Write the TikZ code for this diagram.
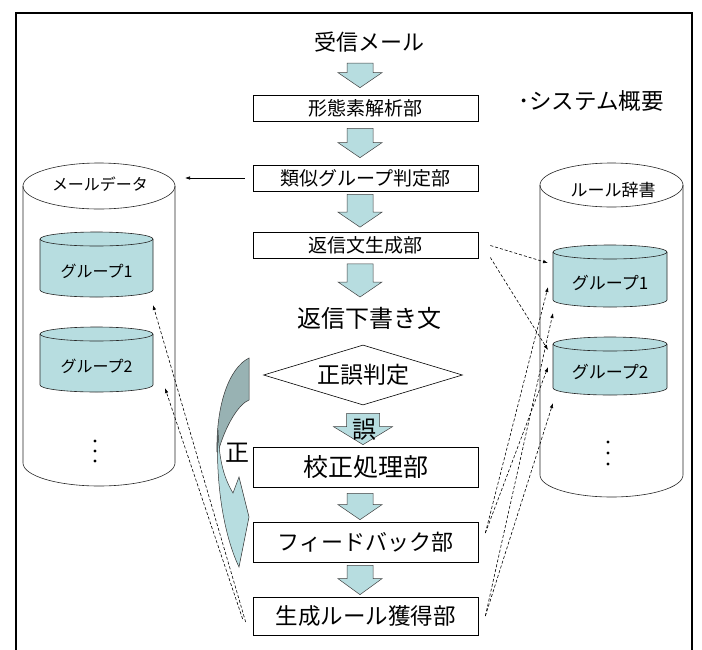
\documentclass[tikz,border=0pt]{standalone}
\usepackage{fontspec}
\setmainfont{Noto Sans CJK JP}
\usetikzlibrary{calc,arrows.meta,shapes.geometric}
\definecolor{lt}{HTML}{B7DDE0}
\definecolor{dk}{HTML}{98B2B3}
\newcommand\fs[1]{\fontsize{#1pt}{#1pt}\selectfont}
\newcommand\barrow[5]{%
  \draw[blk] let \p1=#4, \p2=#5 in
  (\x1-#1pt,\y1) -- (\x1+#1pt,\y1) -- (\x1+#1pt,\y2+#3pt) -- (\x1+#2pt,\y2+#3pt)
  -- (\x1,\y2) -- (\x1-#2pt,\y2+#3pt) -- (\x1-#1pt,\y2+#3pt) -- cycle;}
\newcommand\can[6]{%
  \pgfmathsetmacro\canrx{(#2-#1)/2}%
  \pgfmathsetmacro\cancx{(#1+#2)/2}%
  \fill[#6] (#1,#3) -- (#1,#4) arc[start angle=180,end angle=360,x radius=\canrx pt,y radius=#5pt]
    -- (#2,#3) arc[start angle=0,end angle=180,x radius=\canrx pt,y radius=#5pt] -- cycle;
  \draw[canline] (#1,#3) -- (#1,#4) arc[start angle=180,end angle=360,x radius=\canrx pt,y radius=#5pt] -- (#2,#3);
  \draw[canline] (\cancx,#3) ellipse[x radius=\canrx pt,y radius=#5pt];}
\begin{document}
\begin{tikzpicture}[x=1pt,y=-1pt,
  box/.style={draw=black,line width=0.7pt,fill=white,minimum width=225pt,inner sep=0pt},
  blk/.style={fill=lt,draw=black!75,line width=0.5pt},
  canline/.style={draw=black!85,line width=0.6pt},
  dsh/.style={dash pattern=on 3pt off 2pt,line width=0.6pt,-{Latex[length=5pt,width=3.5pt]}},
  lbl/.style={inner sep=0pt}]
\useasboundingbox (0,0) rectangle (702,649);
\fill[white] (0,0) rectangle (702,649);
\draw[line width=2.5pt] (16,660) -- (16,13) -- (692,13) -- (692,660);

% cylinders
\can{23}{175}{186}{463}{23}{white}
\can{540}{683}{185}{475}{22}{white}
\can{40}{153}{239}{290}{7}{lt}
\can{40}{153}{334}{385}{7}{lt}
\can{553}{667}{252}{300}{7}{lt}
\can{553}{667}{344}{388}{7}{lt}

\node[lbl,font=\fs{16}] (md) at (100,184) {メールデータ};
\node[lbl,font=\fs{17}] (rd) at (613,190) {ルール辞書};
\node[lbl,font=\fs{16}] (lg1) at (96.5,271) {グループ1};
\node[lbl,font=\fs{16}] (lg2) at (96.5,366) {グループ2};
\node[lbl,font=\fs{17}] (rg1) at (610,283) {グループ1};
\node[lbl,font=\fs{17}] (rg2) at (610,372) {グループ2};
\foreach \yy in {441,451,461} \fill (95,\yy) circle (1.7pt);
\foreach \yy in {442,453,464} \fill (608,\yy) circle (1.7pt);

% centre column
\node[lbl,font=\fs{22}] (recv) at (369,42) {受信メール};
\node[lbl,font=\fs{22.5}] (sys) at (591,101) {･システム概要};
\node[box,minimum height=26pt,font=\fs{19}] (b1) at (365.5,108) {形態素解析部};
\node[box,minimum height=26pt,font=\fs{19}] (b2) at (365.5,178) {類似グループ判定部};
\node[box,minimum height=26pt,font=\fs{19}] (b3) at (365.5,245.5) {返信文生成部};
\node[lbl,font=\fs{24}] (draft) at (369,318) {返信下書き文};
\node[diamond,draw=black,line width=0.6pt,fill=white,minimum width=199pt,minimum height=60pt,
      inner sep=0pt,aspect=3.3,font=\fs{23}] (judge) at (363,375) {正誤判定};
\node[box,minimum height=40pt,font=\fs{25}] (b4) at (365.5,467) {校正処理部};
\node[box,minimum height=40pt,font=\fs{22}] (b5) at (365.5,542) {フィードバック部};
\node[box,minimum height=38pt,font=\fs{22.5}] (b6) at (365.5,616) {生成ルール獲得部};

% block arrows
\barrow{13}{22}{15}{($(recv.center)+(-9,21)$)}{($(b1.north)+(-5.5,-7)$)}
\barrow{13}{22}{15}{($(b1.south)+(-5.5,7)$)}{($(b2.north)+(-5.5,-7)$)}
\barrow{13}{22}{15}{($(b2.south)+(-5.5,3)$)}{($(b3.north)+(-5.5,-5)$)}
\barrow{13}{22}{15}{($(b3.south)+(-5.5,5)$)}{($(draft.center)+(-9,-21)$)}
\barrow{16.5}{29.5}{18}{($(judge.south)+(0,8)$)}{($(b4.north)+(-2,-2)$)}
\node[lbl,font=\fs{24}] (goku) at (364,430) {誤};
\barrow{13}{22}{15}{($(b4.south)+(-5.5,6)$)}{($(b5.north)+(-5.5,-2)$)}
\barrow{13}{22}{16}{($(b5.south)+(-5.5,3)$)}{($(b6.north)+(-5.5,-2)$)}

% curved arrow (正)
\draw[fill=dk,draw=black!80,line width=0.5pt] (249,358) -- (249,400)
  .. controls (239,404) and (226,424) .. (218,452) -- (217,452)
  .. controls (216,405) and (229,368) .. (249,358) -- cycle;
\draw[fill=lt,draw=black!80,line width=0.5pt] (218,430)
  .. controls (215,490) and (226,540) .. (239,567) -- (249,517) -- (239,477) -- (233,493)
  .. controls (222,475) and (219,455) .. (218,430) -- cycle;
\node[lbl,font=\fs{24}] (sei) at (237,453) {正};

% solid arrow
\coordinate (mdIn) at (185,178);
\draw[line width=0.6pt,-{Latex[length=5pt,width=3.5pt]}] ($(b2.west)+(-8,0)$) -- (mdIn);

% dashed arrows
\coordinate (r1a) at (548,263);
\coordinate (r2a) at (548,350);
\coordinate (r1b) at (548,287);
\coordinate (r2b) at (548,367);
\coordinate (r1c) at (553,313);
\coordinate (r2c) at (553,403);
\coordinate (l1) at (153,305);
\coordinate (l2) at (165,388);
\draw[dsh] ($(b3.east)+(12,0)$) -- (r1a);
\draw[dsh] ($(b3.east)+(12,12)$) -- (r2a);
\draw[dsh] ($(b5.east)+(7,-9)$) -- (r1b);
\draw[dsh] ($(b5.east)+(7,-9)$) -- (r2b);
\draw[dsh] ($(b6.east)+(7,0)$) -- (r1c);
\draw[dsh] ($(b6.east)+(7,0)$) -- (r2c);
\draw[dsh] ($(b6.west)+(-7,6)$) -- (l1);
\draw[dsh] ($(b6.west)+(-10,3)$) -- (l2);
\end{tikzpicture}
\end{document}
